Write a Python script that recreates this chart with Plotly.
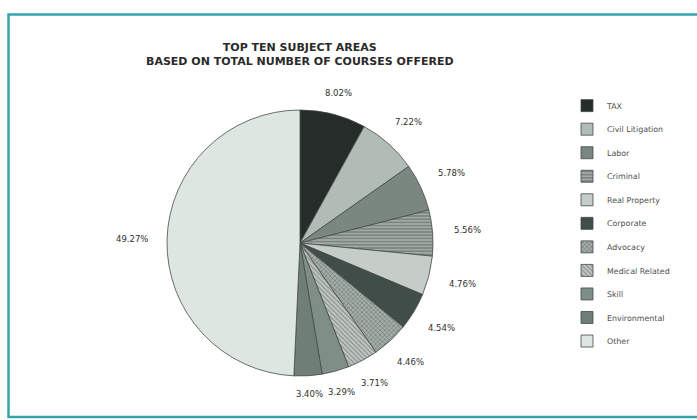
import math
import plotly.graph_objects as go

# Subject areas and their share of all courses offered (percent)
subjects = ["TAX", "Civil Litigation", "Labor", "Criminal", "Real Property",
            "Corporate", "Advocacy", "Medical Related", "Skill",
            "Environmental", "Other"]
shares = [8.02, 7.22, 5.78, 5.56, 4.76, 4.54, 4.46, 3.71, 3.29, 3.40, 49.27]

# Greyscale fills with a few hatched slices
fills = ["#262c2a", "#b1bcb5", "#7a8781", "#a3aba6", "#c6ccc8", "#414d49",
         "#a6aea9", "#c3c9c5", "#7f8f87", "#6f7f77", "#dee6e1"]
hatch = ["", "", "", "-", "", "", "x", "\\", "", "", ""]
hatch_fg = ["#262c2a", "#b1bcb5", "#7a8781", "#6a746f", "#c6ccc8", "#414d49",
            "#6c7570", "#858e89", "#7f8f87", "#6f7f77", "#dee6e1"]

W, H = 697, 420
# pie box in pixels (left, right, top, bottom)
PX0, PX1, PY0, PY1 = 167, 433, 110, 376

fig = go.Figure(go.Pie(
    labels=[f"{s}<br> " for s in subjects],
    values=shares,
    sort=False,
    direction="clockwise",
    rotation=0,
    textinfo="none",
    hovertemplate="%{label}%{value:.2f}%<extra></extra>",
    marker=dict(
        colors=fills,
        line=dict(color="#454a48", width=0.8),
        pattern=dict(shape=hatch, fgcolor=hatch_fg, bgcolor=fills,
                     size=3.2, solidity=0.35),
    ),
    domain=dict(x=[PX0 / W, PX1 / W], y=[1 - PY1 / H, 1 - PY0 / H]),
))

# percentage labels placed just outside each slice, at its mid-angle
cx, cy = (PX0 + PX1) / 2, (PY0 + PY1) / 2
r = (PX1 - PX0) / 2
total = sum(shares)
cum = 0.0
for v in shares:
    theta = 2 * math.pi * (cum + v / 2) / total
    cum += v
    dist = r + 17 + 18 * abs(math.sin(theta))
    lx = cx + dist * math.sin(theta)
    ly = cy - dist * math.cos(theta)
    fig.add_annotation(
        x=lx / W, y=1 - ly / H, xref="paper", yref="paper",
        text=f"{v:.2f}%", showarrow=False,
        xanchor="center", yanchor="middle",
        font=dict(family="DejaVu Sans", size=8.5, color="#2f2f2f"),
    )

fig.add_annotation(
    x=300 / W, y=1 - 54.5 / H, xref="paper", yref="paper",
    text="TOP TEN SUBJECT AREAS<br>BASED ON TOTAL NUMBER OF COURSES OFFERED",
    showarrow=False, xanchor="center", yanchor="middle", align="center",
    font=dict(family="DejaVu Sans", size=11, color="#2a2a2a", weight="bold"),
)

# teal frame
fig.add_shape(type="rect", xref="paper", yref="paper",
              x0=8.5 / W, x1=1.02, y0=1 - 417 / H, y1=1 - 14.5 / H,
              line=dict(color="#34a4ac", width=2.5), fillcolor="rgba(0,0,0,0)")

fig.update_layout(
    width=W, height=H,
    margin=dict(l=0, r=0, t=0, b=0),
    paper_bgcolor="white", plot_bgcolor="white",
    showlegend=True,
    legend=dict(
        x=567 / W, y=1 - 94 / H, xanchor="left", yanchor="top",
        valign="top",
        font=dict(family="DejaVu Sans", size=7.9, color="#4f4f4f"),
        bgcolor="rgba(0,0,0,0)", borderwidth=0,
    ),
)

fig.write_html("out.html")
